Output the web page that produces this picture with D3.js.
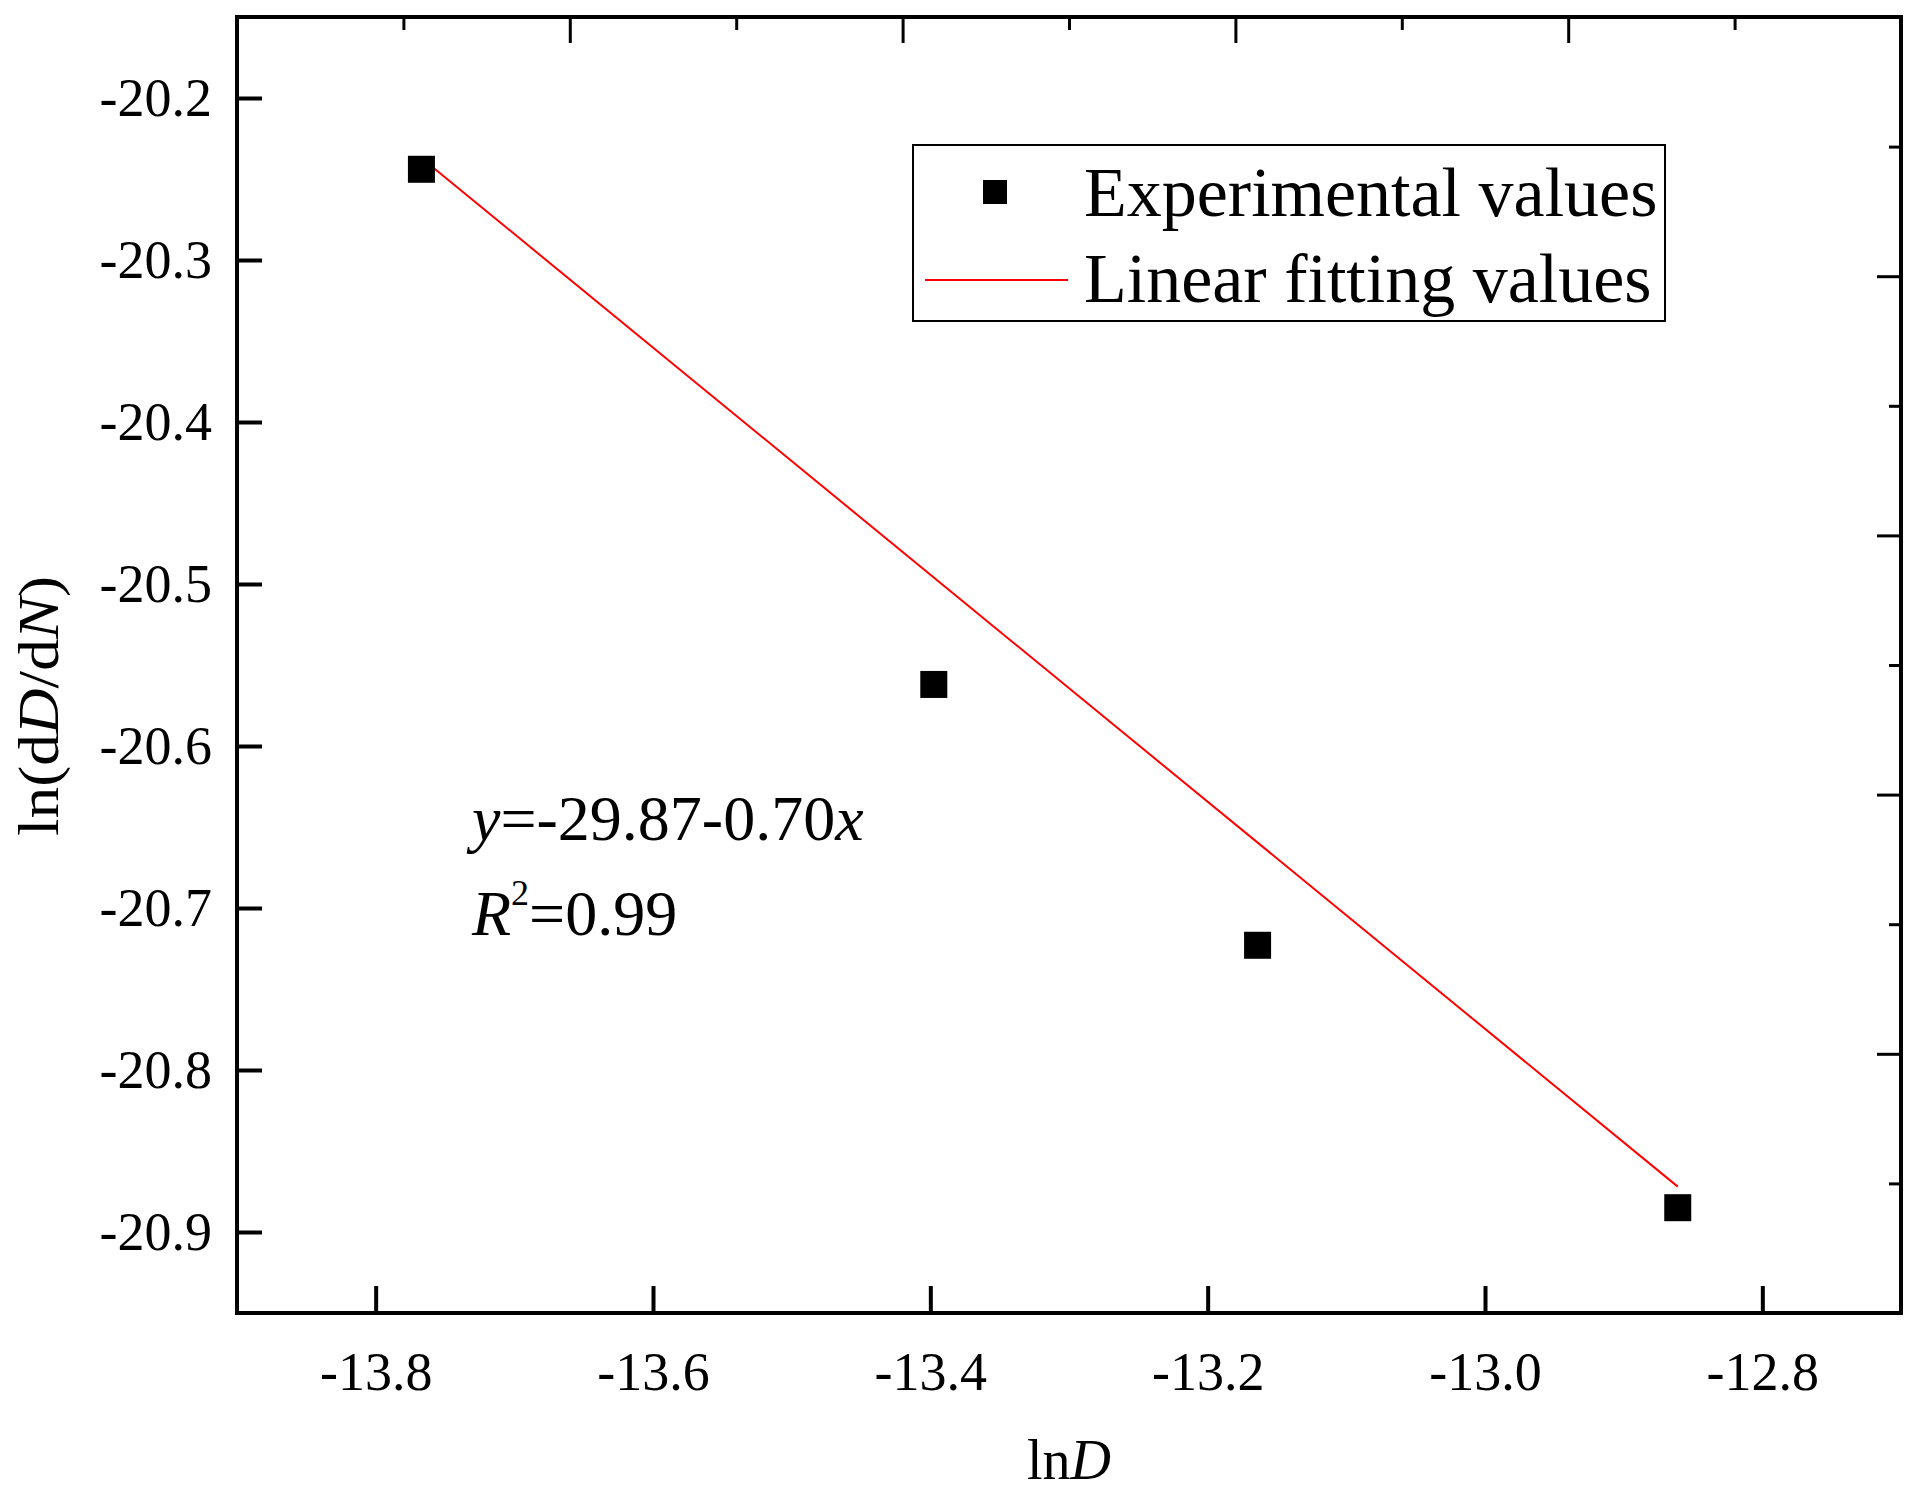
<!DOCTYPE html>
<html>
<head>
<meta charset="utf-8">
<script src="https://cdn.jsdelivr.net/npm/d3@7/dist/d3.min.js"></script>
<style>
  html, body { margin: 0; padding: 0; background: #fff; }
  svg { display: block; }
  text { font-family: "Liberation Serif", "Times New Roman", serif; fill: #000; }
</style>
</head>
<body>
<svg id="chart" width="1926" height="1494"></svg>
<script>
// ---- data ----
const expX = [-13.767, -13.3975, -13.164, -12.861];
const expY = [-20.244, -20.562, -20.723, -20.885];
const fitX = [-13.767, -12.861];
const fitY = [-20.237, -20.872];
const xTicks = [-13.8, -13.6, -13.4, -13.2, -13.0, -12.8];
const yTicks = [-20.2, -20.3, -20.4, -20.5, -20.6, -20.7, -20.8, -20.9];
const xDomain = [-13.9, -12.7];
const yDomain = [-20.95, -20.15];
const legendLabels = ["Experimental values", "Linear fitting values"];

// ---- layout ----
const L = 237, R = 1901, T = 17, B = 1313;
const svg = d3.select("#chart");
const x = d3.scaleLinear().domain(xDomain).range([L, R]);
const y = d3.scaleLinear().domain(yDomain).range([B, T]);

// fit line
svg.append("path")
  .datum(fitX.map((v, i) => [v, fitY[i]]))
  .attr("d", d3.line().x(d => x(d[0])).y(d => y(d[1])))
  .attr("fill", "none").attr("stroke", "#ff0000").attr("stroke-width", 2);

// points
const ms = 27;
svg.selectAll("rect.pt").data(expX.map((v, i) => [v, expY[i]])).join("rect")
  .attr("class", "pt")
  .attr("x", d => x(d[0]) - ms / 2).attr("y", d => y(d[1]) - ms / 2)
  .attr("width", ms).attr("height", ms).attr("fill", "#000");

// bottom axis
const xAxis = d3.axisBottom(x).tickValues(xTicks).tickSizeInner(-27).tickSizeOuter(0)
  .tickPadding(39).tickFormat(d3.format(".1f"));
const gx = svg.append("g").attr("transform", `translate(0,${B})`).call(xAxis);
gx.select(".domain").remove();
gx.selectAll("line").attr("stroke", "#000").attr("stroke-width", 4);
gx.selectAll("text").attr("font-size", 54).attr("font-family", "Liberation Serif")
  .text(d => d3.format(".1f")(d).replace("−", "-"));

// left axis
const yAxis = d3.axisLeft(y).tickValues(yTicks).tickSizeInner(-25).tickSizeOuter(0)
  .tickPadding(25);
const gy = svg.append("g").attr("transform", `translate(${L},0)`).call(yAxis);
gy.select(".domain").remove();
gy.selectAll("line").attr("stroke", "#000").attr("stroke-width", 4);
gy.selectAll("text").attr("font-size", 54).attr("font-family", "Liberation Serif")
  .text(d => d3.format(".1f")(d).replace("−", "-"));

// top and right axes (unlabelled, 10 divisions)
const tScale = d3.scaleLinear().domain([0, 10]).range([L, R]);
const rScale = d3.scaleLinear().domain([0, 10]).range([T, B]);
const divs = d3.range(1, 10);
const gt = svg.append("g").attr("transform", `translate(0,${T})`)
  .call(d3.axisTop(tScale).tickValues(divs).tickSizeOuter(0).tickFormat(""));
gt.select(".domain").remove();
gt.selectAll(".tick line").attr("y2", d => d % 2 === 0 ? 26 : 13)
  .attr("stroke", "#000").attr("stroke-width", 3);
const gr = svg.append("g").attr("transform", `translate(${R},0)`)
  .call(d3.axisRight(rScale).tickValues(divs).tickSizeOuter(0).tickFormat(""));
gr.select(".domain").remove();
gr.selectAll(".tick line").attr("x2", d => d % 2 === 0 ? -24 : -12)
  .attr("stroke", "#000").attr("stroke-width", 3);

// frame
svg.append("rect").attr("x", L).attr("y", T).attr("width", R - L).attr("height", B - T)
  .attr("fill", "none").attr("stroke", "#000").attr("stroke-width", 4);

// axis titles
const xt = svg.append("text").attr("x", 1069).attr("y", 1479).attr("text-anchor", "middle")
  .attr("font-size", 56);
xt.append("tspan").text("ln");
xt.append("tspan").attr("font-style", "italic").text("D");

const yt = svg.append("text").attr("transform", "translate(58,706) rotate(-90) scale(1.13,1)")
  .attr("text-anchor", "middle").attr("font-size", 56);
yt.append("tspan").text("ln(d");
yt.append("tspan").attr("font-style", "italic").text("D");
yt.append("tspan").text("/d");
yt.append("tspan").attr("font-style", "italic").text("N");
yt.append("tspan").text(")");

// equation
const eq = svg.append("text").attr("x", 472).attr("y", 840).attr("font-size", 64);
eq.append("tspan").attr("font-style", "italic").text("y");
eq.append("tspan").text("=-29.87-0.70");
eq.append("tspan").attr("font-style", "italic").text("x");
const r2 = svg.append("text").attr("x", 472).attr("y", 935).attr("font-size", 64);
r2.append("tspan").attr("font-style", "italic").text("R");
r2.append("tspan").attr("font-size", 36).attr("dy", -30).text("2");
r2.append("tspan").attr("dy", 30).text("=0.99");

// legend
const lg = svg.append("g");
lg.append("rect").attr("x", 913).attr("y", 145).attr("width", 752).attr("height", 176)
  .attr("fill", "#fff").attr("stroke", "#000").attr("stroke-width", 2);
lg.append("rect").attr("x", 995 - 12).attr("y", 192 - 12).attr("width", 24).attr("height", 24)
  .attr("fill", "#000");
lg.append("line").attr("x1", 925).attr("x2", 1068).attr("y1", 280).attr("y2", 280)
  .attr("stroke", "#ff0000").attr("stroke-width", 2);
lg.append("text").attr("x", 1084).attr("y", 216).attr("font-size", 70).text(legendLabels[0]);
lg.append("text").attr("x", 1084).attr("y", 302).attr("font-size", 70).text(legendLabels[1]);
</script>
</body>
</html>
